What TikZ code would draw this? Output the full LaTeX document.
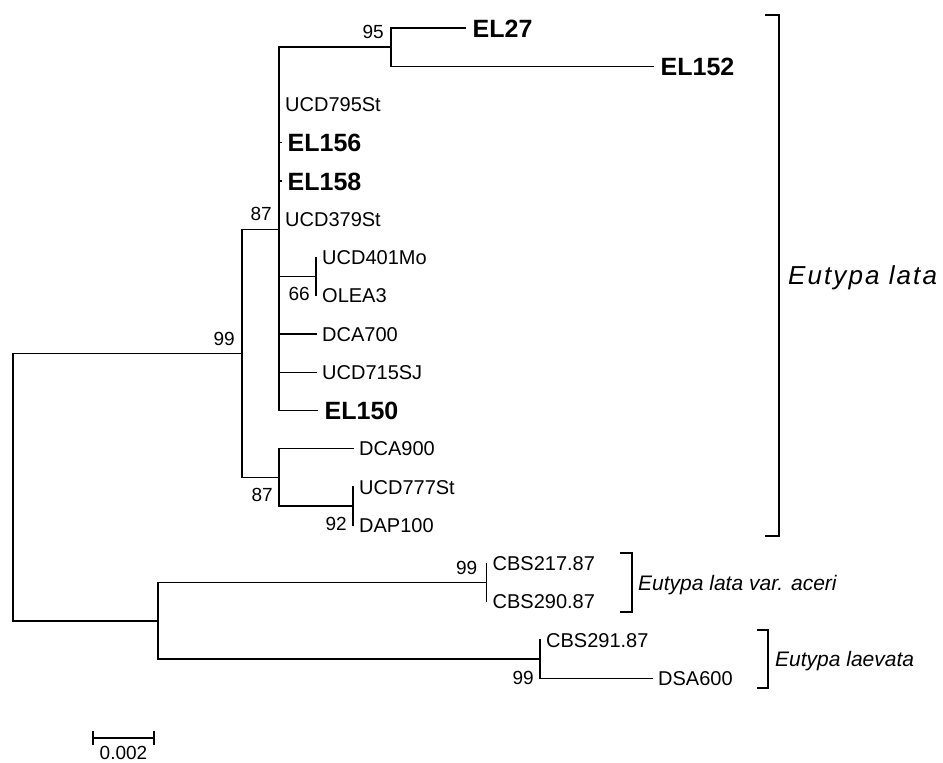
\documentclass[tikz,border=0pt]{standalone}
\usepackage{fontspec}
\setmainfont{Liberation Sans}
\newfontfamily\widefont[LetterSpace=8]{Liberation Sans}

\tikzset{
  branch/.style={line width=1.3pt, line cap=rect},
  leaf/.style={anchor=west, inner sep=0pt, xshift=6pt, text height=14pt, text depth=0pt, font=\fontsize{20}{24}\selectfont},
  boldleaf/.style={anchor=west, inner sep=0pt, xshift=7.5pt, text height=18pt, text depth=0pt, font=\fontsize{25}{30}\selectfont\bfseries},
  suppup/.style={anchor=south east, inner sep=0pt, xshift=-7pt, yshift=8pt, font=\fontsize{19}{22}\selectfont},
  suppdown/.style={anchor=north east, inner sep=0pt, xshift=-6pt, yshift=-10.5pt, font=\fontsize{19}{22}\selectfont},
  clade/.style={line width=1.5pt},
  cladename/.style={anchor=west, inner sep=0pt, text height=15pt, text depth=0pt, font=\fontsize{21}{24}\selectfont\itshape},
}

\begin{document}
\begin{tikzpicture}[x=1pt, y=-1pt]
    \useasboundingbox (0,0) rectangle (943,763);

    % Internal nodes
    \coordinate (nRoot) at (13,487.2);
    \coordinate (n99) at (242,353.5);
    \coordinate (nA) at (279,229.3);
    \coordinate (n95) at (391,47.1);
    \coordinate (n66) at (316,276.6);
    \coordinate (nB) at (279,477.6);
    \coordinate (n92) at (353,506.1);
    \coordinate (nLow) at (158,620.9);
    \coordinate (nCbs) at (486.5,582.6);
    \coordinate (nLae) at (540,659.1);

    % Leaf tips
    \coordinate (el27) at (465,28);
    \coordinate (el152) at (653,66.25);
    \coordinate (ucd795) at (279,104.5);
    \coordinate (el156) at (281.5,142.75);
    \coordinate (el158) at (281.5,181);
    \coordinate (ucd379) at (279,219.25);
    \coordinate (ucd401) at (316,257.5);
    \coordinate (olea3) at (316,295.75);
    \coordinate (dca700) at (316,334);
    \coordinate (ucd715) at (316,372.25);
    \coordinate (el150) at (317,410.5);
    \coordinate (dca900) at (353,448.75);
    \coordinate (ucd777) at (353,487);
    \coordinate (dap100) at (353,525.25);
    \coordinate (cbs217) at (486.5,563.5);
    \coordinate (cbs290) at (486.5,601.75);
    \coordinate (cbs291) at (540,640);
    \coordinate (dsa600) at (652,678.25);

    % Branches
    \draw[branch] (n99) -| (nRoot) |- (nLow);
    \draw[branch] (nA) -| (n99) |- (nB);
    \draw[branch] (n95) -| (nA) |- (el150);
    \draw[branch] (el27) -| (n95) |- (el152);
    \draw[branch] (nA |- el156) -- (el156);
    \draw[branch] (nA |- el158) -- (el158);
    \draw[branch] (nA |- n66) -- (n66);
    \draw[branch] (ucd401) -- (olea3);
    \draw[branch] (nA |- dca700) -- (dca700);
    \draw[branch] (nA |- ucd715) -- (ucd715);
    \draw[branch] (dca900) -| (nB) |- (n92);
    \draw[branch] (ucd777) -- (dap100);
    \draw[branch] (nCbs) -| (nLow) |- (nLae);
    \draw[branch] (cbs217) -- (cbs290);
    \draw[branch] (cbs291) |- (dsa600);

    % Taxa
    \node[boldleaf] (tEL27) at (el27) {EL27};
    \node[boldleaf] (tEL152) at (el152) {EL152};
    \node[leaf] (tUCD795) at (ucd795) {UCD795St};
    \node[boldleaf, xshift=-1.5pt] (tEL156) at (el156) {EL156};
    \node[boldleaf, xshift=-1.5pt] (tEL158) at (el158) {EL158};
    \node[leaf] (tUCD379) at (ucd379) {UCD379St};
    \node[leaf] (tUCD401) at (ucd401) {UCD401Mo};
    \node[leaf] (tOLEA3) at (olea3) {OLEA3};
    \node[leaf] (tDCA700) at (dca700) {DCA700};
    \node[leaf] (tUCD715) at (ucd715) {UCD715SJ};
    \node[boldleaf] (tEL150) at (el150) {EL150};
    \node[leaf] (tDCA900) at (dca900) {DCA900};
    \node[leaf] (tUCD777) at (ucd777) {UCD777St};
    \node[leaf] (tDAP100) at (dap100) {DAP100};
    \node[leaf] (tCBS217) at (cbs217) {CBS217.87};
    \node[leaf] (tCBS290) at (cbs290) {CBS290.87};
    \node[leaf] (tCBS291) at (cbs291) {CBS291.87};
    \node[leaf] (tDSA600) at (dsa600) {DSA600};

    % Bootstrap values
    \node[suppup] (s95) at (n95) {95};
    \node[suppup] (s87a) at (nA) {87};
    \node[suppup] (s99a) at (n99) {99};
    \node[suppdown] (s66) at (n66) {66};
    \node[suppdown] (s87b) at (nB) {87};
    \node[suppdown] (s92) at (n92) {92};
    \node[suppup, xshift=-2pt] (s99b) at (nCbs) {99};
    \node[suppdown, yshift=-1.5pt] (s99c) at (nLae) {99};

    % Clade brackets
    \draw[clade] (765,15) -- (779,15) -- (779,536) -- (765,536);
    \node[anchor=west, inner sep=0pt, text height=18pt, text depth=0pt,
          font=\widefont\fontsize{26}{30}\selectfont\itshape] (cLata) at (788,275.5) {Eutypa lata};
    \draw[clade] (620,553) -- (632,553) -- (632,612) -- (620,612);
    \node[cladename] (cAceri) at (638,582.5) {Eutypa lata var. aceri};
    \draw[clade] (757,630) -- (768,630) -- (768,688) -- (757,688);
    \node[cladename] (cLae) at (775,659) {Eutypa laevata};

    % Scale bar
    \coordinate (sbL) at (93,738);
    \coordinate (sbR) at (154,738);
    \draw[branch] (sbL) -- (sbR);
    \draw[branch] ([yshift=6.5pt]sbL) -- ([yshift=-6.5pt]sbL);
    \draw[branch] ([yshift=6.5pt]sbR) -- ([yshift=-6.5pt]sbR);
    \node[anchor=north, inner sep=0pt, font=\fontsize{19}{22}\selectfont] (sbText) at (123.5,746) {0.002};

\end{tikzpicture}
\end{document}
